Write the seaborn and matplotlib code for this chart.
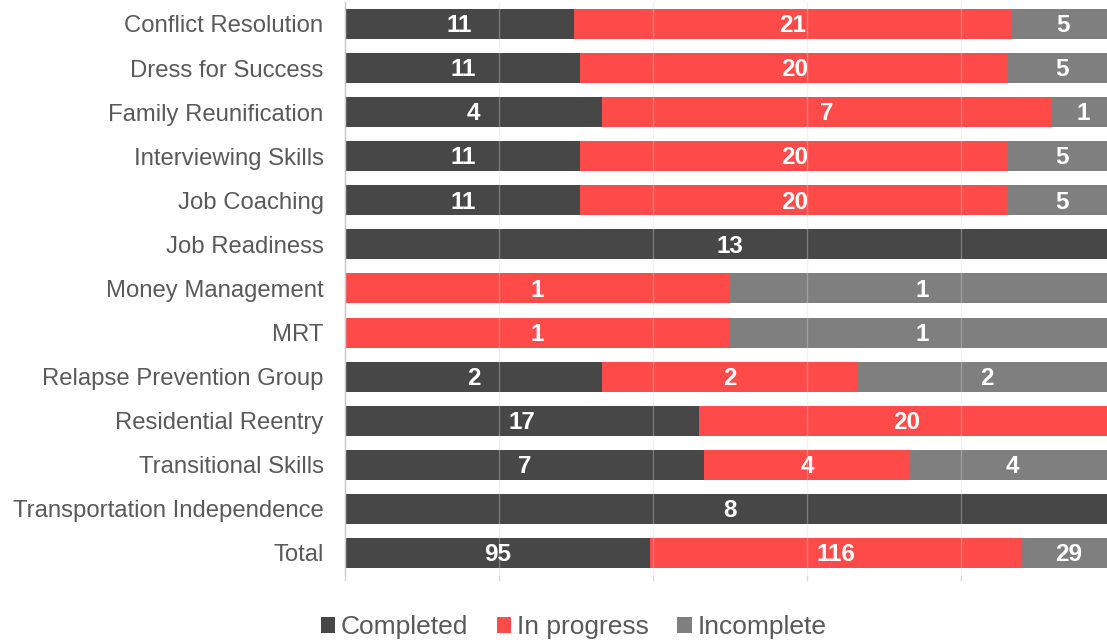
import numpy as np
import pandas as pd
import matplotlib
matplotlib.use("Agg")
import matplotlib.pyplot as plt
import seaborn as sns
from matplotlib.patches import Patch

programs = [
    "Conflict Resolution", "Dress for Success", "Family Reunification",
    "Interviewing Skills", "Job Coaching", "Job Readiness", "Money Management",
    "MRT", "Relapse Prevention Group", "Residential Reentry",
    "Transitional Skills", "Transportation Independence", "Total",
]
completed = [11, 11, 4, 11, 11, 13, 0, 0, 2, 17, 7, 8, 95]
in_progress = [21, 20, 7, 20, 20, 0, 1, 1, 2, 20, 4, 0, 116]
incomplete = [5, 5, 1, 5, 5, 0, 1, 1, 2, 0, 4, 0, 29]

series = ["Completed", "In progress", "Incomplete"]
colors = ["#474747", "#FF4A4A", "#7F7F7F"]

sns.set_style("white")
plt.rcParams["font.family"] = ["Liberation Sans", "DejaVu Sans"]

df = pd.DataFrame({
    "program": programs,
    "Completed": completed,
    "In progress": in_progress,
    "Incomplete": incomplete,
})
tot = df[series].sum(axis=1)
shares = df[series].div(tot, axis=0)
cum = shares.cumsum(axis=1)

fig = plt.figure(figsize=(11.07, 6.42), dpi=100)
# the plot area runs a little past the right edge of the image, as in the original
ax = fig.add_axes([0.3117, 0.1044, 0.6956, 0.8926])

# draw cumulative shares back to front so they look stacked
for name, col in reversed(list(zip(series, colors))):
    sns.barplot(x=cum[name], y=df["program"], color=col, orient="h",
                width=0.68, ax=ax, saturation=1, zorder=2, linewidth=0)

# segment labels
for i in range(len(df)):
    left = 0.0
    for name in series:
        w = shares.loc[i, name]
        v = df.loc[i, name]
        if v > 0:
            ax.text(left + w / 2, i + 0.04, str(v), ha="center", va="center",
                    color="white", fontsize=17.5, fontweight="bold", zorder=4)
        left += w

ax.set_xlim(0, 1)
ax.set_ylim(len(df) - 0.5, -0.5)
ax.set_xticks(np.linspace(0, 1, 6))
ax.set_xticklabels([])
ax.grid(axis="x", color="#D9D9D9", linewidth=1, alpha=0.35, zorder=3)
ax.set_axisbelow(False)
ax.tick_params(axis="x", direction="out", length=4, color="#D9D9D9", width=1, bottom=True)
ax.tick_params(axis="y", length=0, labelsize=17.2, labelcolor="#595959", pad=15.5)
ax.set_xlabel("")
ax.set_ylabel("")
for s in ["top", "right", "bottom"]:
    ax.spines[s].set_visible(False)
ax.spines["left"].set_color("#BFBFBF")
ax.spines["left"].set_linewidth(1)

handles = [Patch(facecolor=c, edgecolor="none", label=n) for n, c in zip(series, colors)]
fig.legend(handles=handles, loc="center", bbox_to_anchor=(0.518, 0.023), ncol=3,
           frameon=False, fontsize=19, labelcolor="#595959",
           handlelength=0.55, handleheight=0.55, handletextpad=0.2, columnspacing=1.1)

fig.savefig("out.png", dpi=100)
